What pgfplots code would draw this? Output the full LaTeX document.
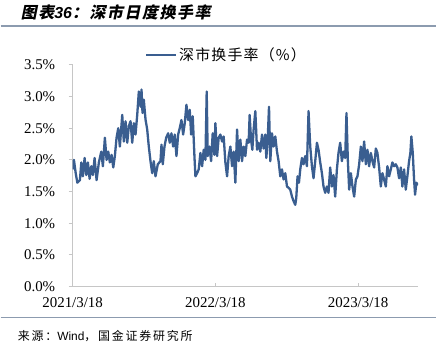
\documentclass[border=0pt]{standalone}
\usepackage{pgfplots}
\pgfplotsset{compat=1.18}
\usepackage{fontspec}
\setmainfont{Liberation Serif}
\newfontfamily\cjk{Noto Sans CJK SC}
\newfontfamily\cjksrc[LetterSpace=15]{Noto Sans CJK SC}
\newfontfamily\cjkleg[LetterSpace=8]{Noto Sans CJK SC}
\newfontfamily\cjkslant[FakeSlant=0.2,LetterSpace=10]{Noto Sans CJK SC}
\newfontfamily\arial{Liberation Sans}
\definecolor{linec}{RGB}{58,94,144}
\definecolor{rulec}{RGB}{140,155,175}
\pgfplotstableread{
x y
0 1.85
1.3 2.00
3.0 1.80
4.7 1.64
7.3 1.68
8.7 1.96
10.3 1.74
12.0 2.03
13.7 1.76
15.3 1.96
17.0 1.70
18.7 1.90
20.3 1.76
22.0 2.03
24.0 1.68
26.3 1.96
28.7 2.13
30.3 1.90
32.3 2.35
34.0 2.00
35.7 2.13
37.3 1.96
39.0 2.08
40.7 1.88
42.3 2.06
44.0 2.35
45.7 2.50
47.3 2.21
49.7 2.71
51.3 2.29
53.0 2.61
54.7 2.27
56.3 2.53
58.0 2.61
59.7 2.27
61.3 2.58
63.0 2.40
64.7 2.71
66.3 3.08
68.0 2.84
69.0 3.11
70.0 2.74
71.3 2.95
73.0 2.64
74.7 2.48
76.3 2.21
78.0 1.98
79.7 1.79
81.3 1.98
83.0 1.74
85.3 1.93
88.0 1.98
89.0 2.24
90.3 1.93
92.0 2.21
93.7 2.35
95.7 2.42
97.3 2.27
99.0 2.42
100.7 2.21
102.3 2.40
104.0 2.06
105.7 2.40
107.3 2.50
109.0 2.63
110.7 2.40
112.3 2.58
114.0 2.87
115.7 2.63
117.3 2.79
118.7 2.40
120.3 2.69
122.0 2.06
123.0 1.74
124.7 1.79
126.3 1.85
128.0 2.11
129.7 1.90
131.3 2.16
133.0 2.00
134.3 3.08
135.3 2.06
137.0 2.21
138.7 1.98
140.3 2.42
142.0 2.08
143.0 2.58
144.7 2.06
146.3 2.35
148.0 2.40
149.7 2.29
151.3 2.37
153.0 1.96
154.7 1.74
156.3 2.06
158.0 2.21
159.7 1.90
161.3 2.13
163.0 1.64
164.7 2.48
166.3 1.98
168.0 2.32
169.7 1.98
171.3 2.21
173.0 2.06
174.7 2.32
176.3 2.27
177.3 2.71
178.7 2.32
180.0 2.16
181.3 2.48
183.0 2.77
184.7 2.16
186.3 2.27
188.0 2.13
189.7 2.40
191.3 2.18
193.0 2.40
194.0 2.03
195.3 2.29
196.7 2.84
198.0 1.98
199.7 2.42
201.3 2.21
203.0 2.37
204.7 2.13
206.3 1.98
208.0 1.74
209.7 1.85
211.3 1.69
213.0 1.79
214.7 1.58
216.3 1.56
218.0 1.53
219.7 1.42
221.3 1.35
223.0 1.29
224.0 1.40
225.3 1.74
226.7 1.64
228.0 1.85
229.7 2.03
231.3 1.93
233.0 2.06
234.7 1.90
236.3 2.77
238.0 2.21
239.7 1.90
241.3 1.71
243.0 1.98
244.7 2.27
246.3 2.16
248.0 1.96
249.7 1.79
251.3 1.58
253.0 1.48
254.7 1.58
256.3 1.48
258.0 1.88
259.7 1.58
261.3 1.76
263.0 1.42
264.7 1.85
266.3 2.11
268.0 2.27
269.7 1.98
271.3 2.13
273.0 2.03
274.3 2.74
275.7 1.98
277.0 1.53
278.7 1.79
280.3 1.58
282.0 1.42
283.7 1.69
285.3 1.74
287.0 1.93
288.7 2.21
290.3 1.98
292.0 2.29
293.7 1.93
295.3 2.16
297.0 1.90
298.7 2.11
300.3 1.98
302.0 1.88
303.7 2.18
305.3 2.11
307.0 1.88
308.7 1.58
310.3 1.79
312.0 1.69
313.7 1.58
315.3 1.90
317.0 1.74
318.7 1.85
320.3 1.96
322.0 1.90
323.7 1.93
325.3 1.88
327.0 1.71
328.7 1.88
330.3 1.58
332.0 1.85
333.7 1.53
335.3 1.74
337.0 1.98
338.3 2.11
339.3 2.37
340.7 2.11
342.0 1.69
343.0 1.45
344.3 1.64
346.0 1.60
}\turnover
\begin{document}
\begin{tikzpicture}[x=1bp,y=1bp]
\path (0,0) rectangle (446,353);
\node[anchor=west, inner sep=0] at (20,341) {\cjkslant\bfseries\fontsize{16}{16}\selectfont 图表{\arial\itshape\bfseries 36}：深市日度换手率};
\draw[rulec, line width=1.5bp] (0,327) -- (436,327);
\draw[rulec, line width=1.2bp] (0,35) -- (436,35);
\node[anchor=west, inner sep=0] at (17,16) {\cjksrc\fontsize{12}{12}\selectfont 来源：{\arial Wind}，国金证券研究所};
\begin{axis}[
  at={(72bp,66bp)}, anchor=south west,
  scale only axis, width=346bp, height=222bp,
  xmin=0, xmax=346, ymin=0, ymax=3.5,
  axis x line*=bottom, axis y line*=left,
  axis line style={-, draw=gray!45, line width=0.8bp},
  xtick={0,143,286}, xticklabels={2021/3/18,2022/3/18,2023/3/18},
  ytick={0,0.5,1,1.5,2,2.5,3,3.5},
  /pgf/number format/assume math mode=true,
  yticklabel={\pgfmathprintnumber[fixed,fixed zerofill,precision=1]{\tick}\%},
  tick align=outside, major tick length=4bp,
  tick style={draw=gray!45, line width=0.8bp},
  xtick style={yshift=4bp},
  tick label style={font=\fontsize{15}{15}\selectfont},
  xticklabel style={yshift=-4bp},
  yticklabel style={xshift=-10bp},
  legend style={at={(0.445,1.045)}, anchor=center, draw=none, fill=none,
    font=\cjkleg\fontsize{15}{15}\selectfont},
  legend image code/.code={\draw[#1] (0bp,0bp) -- (30bp,0bp);},
]
\addplot[linec, line width=2.3bp, line join=round, no markers] table[x=x,y=y] {\turnover};
\addlegendentry{深市换手率（\%）}
\end{axis}
\end{tikzpicture}
\end{document}
